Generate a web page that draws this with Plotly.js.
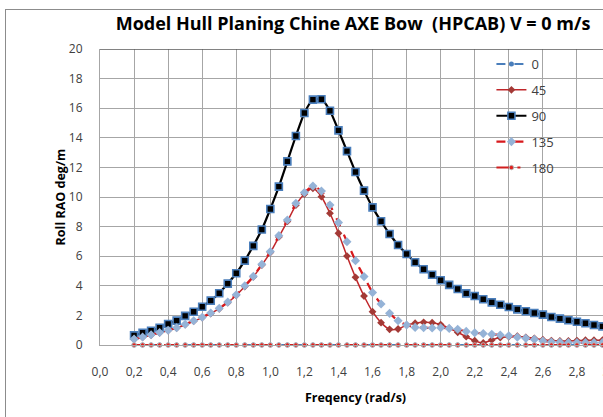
<!DOCTYPE html>
<html>
<head>
<meta charset="utf-8">
<script src="https://cdn.plot.ly/plotly-3.0.1.min.js"></script>
<style>
html,body{margin:0;padding:0;overflow:hidden;background:#fff;width:603px;height:417px;}
#frame{position:absolute;left:5px;top:9px;width:700px;height:500px;border:1px solid #8c8c8c;pointer-events:none;z-index:5;}
#chart{position:absolute;left:0;top:0;}
</style>
</head>
<body>
<div id="chart"></div>
<div id="frame"></div>
<script>
var freq = [0.20,0.25,0.30,0.35,0.40,0.45,0.50,0.55,0.60,0.65,0.70,0.75,0.80,0.85,0.90,0.95,1.00,1.05,1.10,1.15,1.20,1.25,1.30,1.35,1.40,1.45,1.50,1.55,1.60,1.65,1.70,1.75,1.80,1.85,1.90,1.95,2.00,2.05,2.10,2.15,2.20,2.25,2.30,2.35,2.40,2.45,2.50,2.55,2.60,2.65,2.70,2.75,2.80,2.85,2.90,2.95,3.00];

var head0 = [0,0,0,0,0,0,0,0,0,0,0,0,0,0,0,0,0,0,0,0,0,0,0,0,0,0,0,0,0,0,0,0,0,0,0,0,0,0,0,0,0,0,0,0,0,0,0,0,0,0,0,0,0,0,0,0,0];

var head45 = [0.38,0.52,0.67,0.82,0.98,1.15,1.37,1.61,1.85,2.13,2.45,2.86,3.36,3.95,4.60,5.40,6.25,7.30,8.35,9.45,10.20,10.59,10.02,8.90,7.55,6.01,4.57,3.31,2.25,1.51,1.06,1.08,1.35,1.47,1.53,1.51,1.38,1.13,0.86,0.56,0.29,0.14,0.34,0.50,0.56,0.59,0.52,0.45,0.36,0.30,0.27,0.27,0.30,0.32,0.32,0.32,0.32];

var head90 = [0.65,0.83,0.96,1.17,1.42,1.65,1.97,2.25,2.58,3.00,3.50,4.15,4.85,5.70,6.70,7.80,9.19,10.70,12.41,14.12,15.68,16.58,16.60,15.83,14.50,13.10,11.69,10.43,9.30,8.36,7.50,6.76,6.15,5.59,5.12,4.75,4.37,4.06,3.78,3.49,3.31,3.09,2.88,2.72,2.57,2.41,2.28,2.16,2.05,1.89,1.78,1.67,1.57,1.47,1.35,1.26,1.18];

var head135 = [0.40,0.54,0.69,0.84,1.00,1.17,1.40,1.64,1.88,2.16,2.48,2.90,3.40,4.00,4.64,5.45,6.31,7.39,8.45,9.57,10.30,10.74,10.40,9.46,8.27,6.98,5.70,4.62,3.54,2.77,2.14,1.64,1.35,1.19,1.17,1.15,1.17,1.12,1.06,0.92,0.83,0.77,0.72,0.68,0.63,0.52,0.45,0.38,0.27,0.20,0.18,0.16,0.16,0.16,0.16,0.16,0.16];

var head180 = [0,0,0,0,0,0,0,0,0,0,0,0,0,0,0,0,0,0,0,0,0,0,0,0,0,0,0,0,0,0,0,0,0,0,0,0,0,0,0,0,0,0,0,0,0,0,0,0,0,0,0,0,0,0,0,0,0];

var seriesNames = ['0','45','90','135','180'];
var xTickVals = [0,0.2,0.4,0.6,0.8,1.0,1.2,1.4,1.6,1.8,2.0,2.2,2.4,2.6,2.8,3.0];
var yTickVals = [0,2,4,6,8,10,12,14,16,18,20];

var FONT = 'Open Sans, DejaVu Sans, sans-serif';

var traces = [
  {x: freq, y: head0, name: seriesNames[0], legendgroup:'a', mode:'lines+markers', cliponaxis:false,
   line:{color:'#4A7EBB', width:2, dash:'dash'},
   marker:{symbol:'circle', size:5, color:'#4A7EBB'}},
  {x: freq, y: head45, name: seriesNames[1], legendgroup:'b', mode:'lines+markers', cliponaxis:false,
   line:{color:'#C0262A', width:1.5, shape:'spline', smoothing:0.6},
   marker:{symbol:'diamond', size:6, color:'#A33A36'}},
  {x: freq, y: head90, name: seriesNames[2], legendgroup:'c', mode:'lines+markers', cliponaxis:false,
   line:{color:'#000000', width:2.2, shape:'spline', smoothing:0.6},
   marker:{symbol:'square', size:7, color:'#000000', line:{color:'#4A7EBB', width:1.6}}},
  {x: freq, y: head135, name: seriesNames[3], legendgroup:'d', mode:'lines+markers', cliponaxis:false,
   line:{color:'#D7191C', width:2.2, dash:'dash', shape:'spline', smoothing:0.6},
   marker:{symbol:'diamond', size:7, color:'#95B3D7'}},
  {x: freq, y: head180, name: seriesNames[4], legendgroup:'e', mode:'lines+markers', cliponaxis:false,
   line:{color:'#D01F1F', width:2, dash:'longdashdot'},
   marker:{symbol:'circle', size:4.5, color:'#E0201E', line:{color:'#BBBBBB', width:1}}}
];

var layout = {
  width: 631, height: 440,
  margin: {l:100, r:20, t:49, b:95},
  paper_bgcolor:'#ffffff', plot_bgcolor:'#ffffff',
  separators: ', ',
  font: {family: FONT, size: 12, color:'#404040'},
  title: {text:'Model Hull Planing Chine AXE Bow\u00a0 (HPCAB) V = 0 m/s',
          font:{family: FONT, size:18, color:'#000000', weight:'bold'},
          x: 353/631, xref:'container', xanchor:'center', y: 1-24/440, yref:'container', yanchor:'middle'},
  xaxis: {range:[0,3], tickvals:xTickVals, tickformat:'.1f', showgrid:true, gridcolor:'#A6A6A6', gridwidth:1,
          zeroline:false, showline:true, linecolor:'#A6A6A6', linewidth:1,
          ticks:'outside', ticklen:16, tickcolor:'rgba(0,0,0,0)',
          tickfont:{family:FONT, size:12, color:'#404040'},
          title:{text:'Freqency (rad/s)', font:{family:FONT, size:12.5, color:'#000000', weight:'bold'}, standoff:13}},
  yaxis: {range:[0,20], tickvals:yTickVals, showgrid:true, gridcolor:'#A6A6A6', gridwidth:1,
          zeroline:false, showline:true, linecolor:'#A6A6A6', linewidth:1,
          ticks:'outside', ticklen:14, tickcolor:'rgba(0,0,0,0)',
          tickfont:{family:FONT, size:12, color:'#404040'},
          title:{text:'Roll RAO deg/m', font:{family:FONT, size:12.5, color:'#000000', weight:'bold'}, standoff:0}},
  legend: {x:0.766, xanchor:'left', y:1.0, yanchor:'top', bgcolor:'rgba(0,0,0,0)',
           font:{family:FONT, size:13, color:'#404040'}, tracegroupgap:6, traceorder:'grouped'},
  shapes: [{type:'line', xref:'paper', yref:'y', x0:0, x1:1, y0:20, y1:20, line:{color:'#595959', width:1.3}}],
  showlegend: true
};

Plotly.newPlot('chart', traces, layout, {displayModeBar:false, staticPlot:true});
</script>
</body>
</html>
